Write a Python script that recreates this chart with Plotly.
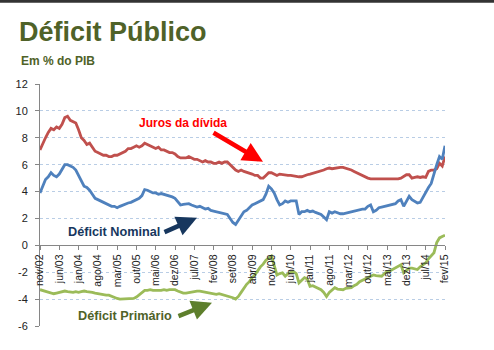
import plotly.graph_objects as go

tick_labels = ["nov/02", "jun/03", "jan/04", "ago/04", "mar/05", "out/05", "mai/06", "dez/06",
               "jul/07", "fev/08", "set/08", "abr/09", "nov/09", "jun/10", "jan/11", "ago/11",
               "mar/12", "out/12", "mai/13", "dez/13", "jul/14", "fev/15"]

juros = [7.1, 7.6, 8.0, 8.4, 8.7, 8.6, 8.8, 8.7, 9.0, 9.5,
         9.6, 9.3, 9.2, 9.1, 8.6, 8.0, 7.8, 7.5, 7.6, 7.3,
         7.0, 6.9, 6.8, 6.7, 6.7, 6.6, 6.6, 6.7, 6.7, 6.8,
         6.9, 7.0, 7.2, 7.2, 7.3, 7.4, 7.3, 7.4, 7.6, 7.5,
         7.4, 7.3, 7.2, 7.3, 7.1, 7.1, 7.0, 6.9, 6.9, 6.8,
         6.6, 6.5, 6.5, 6.5, 6.6, 6.5, 6.4, 6.4, 6.3, 6.2,
         6.3, 6.2, 6.2, 6.1, 6.1, 6.2, 6.1, 6.2, 6.2, 6.0,
         5.8, 5.6, 5.5, 5.6, 5.5, 5.45, 5.4, 5.3, 5.2, 5.2,
         5.0, 5.0, 5.2, 5.4, 5.4, 5.3, 5.2, 5.3, 5.25, 5.25,
         5.2, 5.2, 5.15, 5.1, 5.1, 5.1, 5.2, 5.25, 5.3, 5.35,
         5.4, 5.5, 5.55, 5.6, 5.7, 5.75, 5.7, 5.75, 5.8, 5.8,
         5.8, 5.75, 5.7, 5.6, 5.5, 5.4, 5.25, 5.15, 5.05, 5.0,
         4.95, 4.95, 4.9, 4.9, 4.9, 4.9, 4.9, 4.95, 4.95, 4.9,
         4.95, 5.0, 5.1, 5.25, 5.25, 5.0, 5.05, 5.1, 5.05, 5.1,
         5.05, 5.5, 5.6, 5.6, 5.7, 6.1, 5.9, 6.6]

nominal = [3.9, 4.4, 4.9, 5.1, 5.4, 5.2, 5.1, 5.3, 5.6, 6.0,
           6.0, 5.9, 5.8, 5.6, 5.2, 4.7, 4.4, 4.3, 4.1, 3.8,
           3.5, 3.4, 3.3, 3.15, 3.1, 3.0, 2.9, 2.9, 2.8, 2.9,
           3.0, 3.1, 3.15, 3.2, 3.3, 3.45, 3.5, 3.7, 4.15, 4.1,
           4.0, 3.9, 3.9, 3.8, 3.85, 3.8, 3.75, 3.7, 3.6, 3.5,
           3.2, 3.0, 3.05, 3.1, 3.1, 3.0, 2.9, 2.85, 2.9, 2.8,
           2.7, 2.75, 2.6, 2.55, 2.5, 2.5, 2.4, 2.4, 2.3, 2.0,
           1.7, 1.55, 1.9, 2.2, 2.5, 2.6, 2.8, 3.0, 3.1, 3.2,
           3.3, 3.4, 3.8, 4.4, 4.2, 3.9, 3.4, 3.0, 3.1, 3.3,
           3.2, 3.3, 3.3, 3.3, 2.3, 2.5, 2.5, 2.6, 2.5, 2.55,
           2.45, 2.4, 2.3, 2.1, 1.9, 2.5, 2.4, 2.5, 2.4, 2.35,
           2.35, 2.4, 2.5, 2.5, 2.6, 2.6, 2.65, 2.7, 2.7, 2.9,
           3.0, 2.5, 2.6, 2.8, 2.85, 2.9, 2.9, 2.95, 3.0, 3.1,
           3.3, 3.4, 2.9, 3.3, 3.65, 3.4, 3.3, 3.15, 3.2, 3.6,
           4.0, 4.3, 4.6, 5.4, 6.0, 6.6, 6.4, 7.4]

primario = [-3.3, -3.35, -3.4, -3.5, -3.5, -3.6, -3.55, -3.5, -3.45, -3.4,
            -3.45, -3.5, -3.5, -3.45, -3.5, -3.45, -3.4, -3.45, -3.45, -3.5,
            -3.55, -3.6, -3.6, -3.65, -3.7, -3.7, -3.8, -3.85, -3.95, -4.0,
            -4.0, -3.95, -4.0, -3.95, -3.95, -3.85, -3.7, -3.5, -3.35, -3.35,
            -3.3, -3.35, -3.35, -3.4, -3.35, -3.3, -3.35, -3.3, -3.3, -3.3,
            -3.4, -3.5, -3.55, -3.55, -3.5, -3.45, -3.4, -3.4, -3.4, -3.45,
            -3.5, -3.55, -3.6, -3.6, -3.65, -3.6, -3.65, -3.7, -3.75, -3.8,
            -3.9, -4.0, -3.8, -3.5, -3.2, -2.9, -2.7, -2.4, -2.2, -1.9,
            -1.6, -1.4, -1.1, -0.95, -0.8, -1.5, -2.2, -2.1, -2.05, -2.3,
            -2.1, -2.0, -1.95, -2.1, -2.8, -2.6, -2.4, -2.5, -3.05, -3.0,
            -3.1, -3.15, -3.3, -3.5, -3.8, -3.5, -3.3, -3.15, -3.25, -3.3,
            -3.3, -3.2, -3.15, -3.15, -3.0, -2.9, -2.7, -2.6, -2.5, -2.4,
            -2.3, -2.2, -2.25, -2.3, -2.3, -2.1, -1.95, -1.9, -1.8, -1.7,
            -1.55, -1.45, -2.05, -1.9, -1.7, -1.7, -1.75, -1.8, -1.6, -1.45,
            -1.3, -1.0, -0.8, -0.55, 0.2, 0.55, 0.65, 0.75]

y_ticks = [-6, -4, -2, 0, 2, 4, 6, 8, 10, 12]

FONT = "Liberation Sans, Arial, sans-serif"
months = list(range(len(juros)))

fig = go.Figure()
fig.add_trace(go.Scatter(x=months, y=juros, mode="lines", name="Juros da dívida",
                         line=dict(color="#C0504D", width=2.8)))
fig.add_trace(go.Scatter(x=months, y=nominal, mode="lines", name="Déficit Nominal",
                         line=dict(color="#4F81BD", width=2.8)))
fig.add_trace(go.Scatter(x=months, y=primario, mode="lines", name="Déficit Primário",
                         line=dict(color="#9BBB59", width=2.8)))

# paper-coordinate helpers for plot area (l=40, r=445, t=84, b=326.4)
L, R, T, B = 40, 445, 84, 326.4
def px(xp):
    return (xp - L) / (R - L)
def py(yp):
    return (B - yp) / (B - T)

annotations = [
    dict(text="<b>Déficit Público</b>", x=px(17), y=py(32), xanchor="left", yanchor="middle",
         font=dict(size=27, color="#4F6228", family=FONT)),
    dict(text="<b>Em % do PIB</b>", x=px(19), y=py(60.5), xanchor="left", yanchor="middle",
         font=dict(size=12, color="#4F6228", family=FONT)),
    dict(text="<b>Juros da dívida</b>", x=px(137), y=py(122.7), xanchor="left", yanchor="middle",
         font=dict(size=12, color="#FF0000", family=FONT)),
    dict(text="<b>Déficit Nominal</b>", x=px(66), y=py(232), xanchor="left", yanchor="middle",
         font=dict(size=12.7, color="#17375E", family=FONT)),
    dict(text="<b>Déficit Primário</b>", x=px(76), y=py(316), xanchor="left", yanchor="middle",
         font=dict(size=12.7, color="#4F6228", family=FONT)),
]
for a in annotations:
    a.update(xref="paper", yref="paper", showarrow=False)

arrows = [
    ((263, 162), (212, 132), "#FF0000"),
    ((197, 218), (163, 233), "#17375E"),
    ((212, 303), (177, 317), "#5E7F2C"),
]
for head, tail, col in arrows:
    annotations.append(dict(text="", xref="paper", yref="paper", x=px(head[0]), y=py(head[1]),
                            ax=tail[0] - head[0], ay=tail[1] - head[1], showarrow=True,
                            arrowhead=2, arrowsize=0.9, arrowwidth=4.5, arrowcolor=col,
                            standoff=0))

fig.update_layout(
    width=494, height=350,
    margin=dict(l=L, r=494 - R, t=T, b=350 - B),
    paper_bgcolor="white", plot_bgcolor="white",
    showlegend=False,
    font=dict(family=FONT, size=11, color="#333333"),
    annotations=annotations,
    shapes=[dict(type="line", xref="paper", yref="paper", x0=px(0), x1=px(494),
                 y0=py(1), y1=py(1), line=dict(color="#333333", width=3))],
)

fig.update_xaxes(
    range=[0, len(juros) - 1],
    tickvals=[7 * i for i in range(len(tick_labels))],
    ticktext=tick_labels,
    tickangle=-90,
    ticks="outside", ticklen=4, tickcolor="#868686",
    showline=True, linecolor="#868686", linewidth=1,
    showgrid=False, zeroline=False,
    anchor="free", position=6 / 18,
    tickfont=dict(size=10.5, color="#222222"),
)
fig.update_yaxes(
    range=[-6, 12],
    tickvals=y_ticks,
    ticktext=[str(v) for v in y_ticks],
    ticks="outside", ticklen=4, tickcolor="#868686",
    showline=True, linecolor="#868686", linewidth=1,
    showgrid=True, gridcolor="#B9CDE5", griddash="dot", gridwidth=1,
    zeroline=False, ticklabelstandoff=5,
    tickfont=dict(size=11, color="#222222"),
)

fig.write_html("out.html")
